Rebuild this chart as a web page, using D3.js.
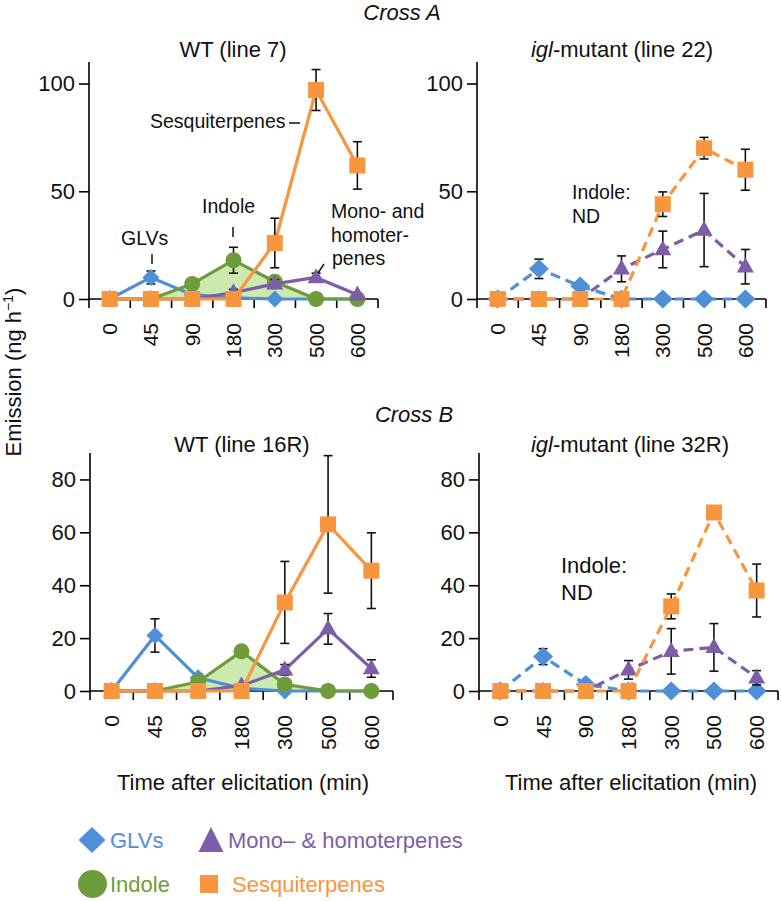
<!DOCTYPE html>
<html>
<head>
<meta charset="utf-8">
<script src="https://cdn.jsdelivr.net/npm/d3@7"></script>
<style>
  html, body { margin: 0; padding: 0; background: #fff; }
  svg { display: block; font-family: 'Liberation Sans', Arial, Helvetica, sans-serif; }
</style>
</head>
<body>
<svg id="chart" width="781" height="901"></svg>
<script>
// ---------------- DATA ----------------
const times = ["0", "45", "90", "180", "300", "500", "600"];
const seriesNames = ["GLVs", "Indole", "Mono– & homoterpenes", "Sesquiterpenes"];
const ticksA = [0, 50, 100];
const ticksB = [0, 20, 40, 60, 80];

// Cross A, WT (line 7)
const aWT_glv      = [0, 10, 2, 0.5, 0, 0, 0];
const aWT_glv_err  = [0, 3, 0, 0, 0, 0, 0];
const aWT_ind      = [0, 0, 7, 18, 8, 0, 0];
const aWT_ind_err  = [0, 0, 0, 6, 1.5, 0, 0];
const aWT_mono     = [0, 0, 0, 3, 7, 10, 2];
const aWT_mono_err = [0, 0, 0, 1.5, 2, 2, 0];
const aWT_ses      = [0, 0, 0, 0, 26, 97, 62];
const aWT_ses_err  = [0, 0, 0, 0, 11.5, 9.5, 11];

// Cross A, igl-mutant (line 22)
const aMut_glv      = [0, 14, 6, 0, 0, 0, 0];
const aMut_glv_err  = [0, 4.5, 0, 0, 0, 0, 0];
const aMut_mono     = [0, 0, 0, 14, 23, 32, 15];
const aMut_mono_err = [0, 0, 0, 6, 8.5, 17, 8];
const aMut_ses      = [0, 0, 0, 0, 44, 70, 60];
const aMut_ses_err  = [0, 0, 0, 0, 5.7, 5, 9.5];

// Cross B, WT (line 16R)
const bWT_glv      = [0, 21, 5, 1, 0, 0, 0];
const bWT_glv_err  = [0, 6.3, 1.5, 0, 0, 0, 0];
const bWT_ind      = [0, 0, 3.5, 15, 2.5, 0, 0];
const bWT_ind_err  = [0, 0, 0, 0, 0, 0, 0];
const bWT_mono     = [0, 0, 0, 2, 8, 23.5, 8.5];
const bWT_mono_err = [0, 0, 0, 0, 2, 5.8, 3.3];
const bWT_ses      = [0, 0, 0, 0, 33.5, 63, 45.5];
const bWT_ses_err  = [0, 0, 0, 0, 15.5, 26, 14.3];

// Cross B, igl-mutant (line 32R)
const bMut_glv      = [0, 13, 2.5, 0, 0, 0, 0];
const bMut_glv_err  = [0, 3, 0, 0, 0, 0, 0];
const bMut_mono     = [0, 0, 0, 8, 15, 16.5, 5];
const bMut_mono_err = [0, 0, 0, 3.5, 8.6, 9, 2.7];
const bMut_ses      = [0, 0, 0, 0, 32, 67.5, 38];
const bMut_ses_err  = [0, 0, 0, 0, 4.7, 0, 10];

// ---------------- STYLE ----------------
const colors = { glv: "#4f8fd8", ind: "#6f9c3a", mono: "#7b5ea7", ses: "#f7963f" };
const fillGreen = "#c7e8a5";
const FONT = 22;

const svg = d3.select("#chart");

function markerPath(shape, cx, cy, big) {
  if (shape === "diamond") {
    const w = big ? 10 : 8.5, h = big ? 9.5 : 8.5;
    return `M${cx},${cy - h}L${cx + w},${cy}L${cx},${cy + h}L${cx - w},${cy}Z`;
  }
  if (shape === "square") {
    const s = 8;
    return `M${cx - s},${cy - s}H${cx + s}V${cy + s}H${cx - s}Z`;
  }
  if (shape === "triangle") {
    const w = 8.5, h = 15;
    return `M${cx},${cy - h * 0.62}L${cx + w},${cy + h * 0.38}L${cx - w},${cy + h * 0.38}Z`;
  }
  return null;
}

function drawPanel(cfg) {
  const g = svg.append("g");
  const x = d3.scaleBand().domain(times).range([cfg.x0, cfg.x1]).paddingInner(0).paddingOuter(0);
  const y = d3.scaleLinear().domain([0, cfg.ymax]).range([cfg.y0, cfg.yTop]);
  const cx = d => x(d) + x.bandwidth() / 2;

  // indole shaded area
  if (cfg.ind) {
    const area = d3.area()
      .x((d, i) => cx(times[i]))
      .y0(y(0))
      .y1(d => y(d));
    g.append("path").datum(cfg.ind.v).attr("d", area).attr("fill", fillGreen).attr("opacity", 0.9);
  }

  // axes
  const yAxis = d3.axisLeft(y).tickValues(cfg.ticks).tickSize(10).tickPadding(4);
  const ya = g.append("g").attr("transform", `translate(${cfg.x0},0)`).call(yAxis);
  ya.select(".domain").remove();
  ya.selectAll("line").attr("stroke", "#000").attr("stroke-width", 1.6);
  ya.selectAll("text").attr("font-size", FONT).attr("font-family", "'Liberation Sans', Arial, sans-serif").attr("fill", "#111");
  g.append("line").attr("x1", cfg.x0).attr("x2", cfg.x0).attr("y1", cfg.yTop).attr("y2", y(0) + 9)
    .attr("stroke", "#000").attr("stroke-width", 1.6);
  g.append("line").attr("x1", cfg.x0).attr("x2", cfg.x1).attr("y1", y(0)).attr("y2", y(0))
    .attr("stroke", "#000").attr("stroke-width", 1.6);
  times.forEach(t => {
    const bx = x(t) + x.bandwidth();
    g.append("line").attr("x1", bx).attr("x2", bx).attr("y1", y(0)).attr("y2", y(0) + 9)
      .attr("stroke", "#000").attr("stroke-width", 1.6);
  });
  times.forEach(t => {
    g.append("text").text(t)
      .attr("transform", `translate(${cx(t)},${y(0) + 24}) rotate(-90)`)
      .attr("text-anchor", "end").attr("dy", "0.36em")
      .attr("font-size", 21).attr("fill", "#111");
  });

  const list = [
    cfg.glv ? { key: "glv", shape: "diamond", ...cfg.glv } : null,
    cfg.ind ? { key: "ind", shape: "circle", ...cfg.ind } : null,
    cfg.mono ? { key: "mono", shape: "triangle", ...cfg.mono } : null,
    cfg.ses ? { key: "ses", shape: "square", ...cfg.ses } : null
  ].filter(Boolean);

  const line = d3.line().x((d, i) => cx(times[i])).y(d => y(d));

  list.forEach(s => {
    const col = colors[s.key];
    g.append("path").datum(s.v).attr("d", line).attr("fill", "none")
      .attr("stroke", col).attr("stroke-width", 3.2)
      .attr("stroke-linejoin", "round")
      .attr("stroke-dasharray", cfg.dashed ? "10,6" : null);
    // error bars
    s.v.forEach((v, i) => {
      const e = s.e[i];
      if (!e) return;
      const px = cx(times[i]);
      const top = y(v + e), bot = y(Math.max(0, v - e));
      g.append("line").attr("x1", px).attr("x2", px).attr("y1", top).attr("y2", bot).attr("stroke", "#111").attr("stroke-width", 1.6);
      g.append("line").attr("x1", px - 4.5).attr("x2", px + 4.5).attr("y1", top).attr("y2", top).attr("stroke", "#111").attr("stroke-width", 1.6);
      g.append("line").attr("x1", px - 4.5).attr("x2", px + 4.5).attr("y1", bot).attr("y2", bot).attr("stroke", "#111").attr("stroke-width", 1.6);
    });
    // markers
    s.v.forEach((v, i) => {
      const px = cx(times[i]), py = y(v);
      if (s.shape === "circle") {
        g.append("circle").attr("cx", px).attr("cy", py).attr("r", 8).attr("fill", col);
      } else {
        g.append("path").attr("d", markerPath(s.shape, px, py, cfg.dashed)).attr("fill", col);
      }
    });
  });
  return { x, y, g };
}

// ---------------- PANELS ----------------
const pA1 = drawPanel({
  x0: 89, x1: 378, y0: 299, yTop: 62, ymax: 110, ticks: ticksA, dashed: false,
  glv: { v: aWT_glv, e: aWT_glv_err }, ind: { v: aWT_ind, e: aWT_ind_err },
  mono: { v: aWT_mono, e: aWT_mono_err }, ses: { v: aWT_ses, e: aWT_ses_err }
});
const pA2 = drawPanel({
  x0: 477, x1: 766, y0: 299, yTop: 62, ymax: 110, ticks: ticksA, dashed: true,
  glv: { v: aMut_glv, e: aMut_glv_err },
  mono: { v: aMut_mono, e: aMut_mono_err }, ses: { v: aMut_ses, e: aMut_ses_err }
});
const pB1 = drawPanel({
  x0: 90, x1: 393, y0: 691, yTop: 453, ymax: 90, ticks: ticksB, dashed: false,
  glv: { v: bWT_glv, e: bWT_glv_err }, ind: { v: bWT_ind, e: bWT_ind_err },
  mono: { v: bWT_mono, e: bWT_mono_err }, ses: { v: bWT_ses, e: bWT_ses_err }
});
const pB2 = drawPanel({
  x0: 479, x1: 778, y0: 691, yTop: 453, ymax: 90, ticks: ticksB, dashed: true,
  glv: { v: bMut_glv, e: bMut_glv_err },
  mono: { v: bMut_mono, e: bMut_mono_err }, ses: { v: bMut_ses, e: bMut_ses_err }
});

// ---------------- TEXT ----------------
function txt(s, x, y, opts = {}) {
  const t = svg.append("text").attr("x", x).attr("y", y)
    .attr("font-size", opts.size || FONT).attr("fill", opts.fill || "#111")
    .attr("text-anchor", opts.anchor || "start");
  if (opts.italic) t.attr("font-style", "italic");
  t.text(s);
  return t;
}
txt("Cross A", 402, 20, { anchor: "middle", italic: true });
txt("Cross B", 414, 422, { anchor: "middle", italic: true });
txt("WT (line 7)", 233, 57, { anchor: "middle" });
txt("WT (line 16R)", 242, 452, { anchor: "middle" });
function iglTitle(rest, x, y) {
  const t = svg.append("text").attr("x", x).attr("y", y).attr("font-size", FONT)
    .attr("fill", "#111").attr("text-anchor", "middle");
  t.append("tspan").attr("font-style", "italic").text("igl");
  t.append("tspan").text(rest);
}
iglTitle("-mutant (line 22)", 622, 57);
iglTitle("-mutant (line 32R)", 630, 452);

txt("Time after elicitation (min)", 243, 790, { anchor: "middle" });
txt("Time after elicitation (min)", 631, 790, { anchor: "middle" });

const yl = svg.append("text").attr("transform", "translate(21,372) rotate(-90)")
  .attr("text-anchor", "middle").attr("font-size", FONT).attr("fill", "#111");
yl.append("tspan").text("Emission (ng h");
yl.append("tspan").attr("font-size", 14).attr("dy", -8).text("−1");
yl.append("tspan").attr("dy", 8).text(")");

// annotations panel A WT
const AN = 19.5;
txt("Sesquiterpenes", 150, 128, { size: AN });
svg.append("line").attr("x1", 289).attr("x2", 300).attr("y1", 123).attr("y2", 123).attr("stroke", "#111").attr("stroke-width", 1.5);
txt("Indole", 202, 213, { size: AN });
svg.append("line").attr("x1", 233).attr("x2", 233).attr("y1", 227).attr("y2", 237).attr("stroke", "#111").attr("stroke-width", 1.5);
txt("GLVs", 121, 245, { size: AN });
svg.append("line").attr("x1", 152).attr("x2", 152).attr("y1", 254).attr("y2", 264).attr("stroke", "#111").attr("stroke-width", 1.5);
txt("Mono- and", 331, 218, { size: AN });
txt("homoter-", 331, 242, { size: AN });
txt("penes", 332, 265, { size: AN });
svg.append("line").attr("x1", 318).attr("x2", 324).attr("y1", 273).attr("y2", 264).attr("stroke", "#111").attr("stroke-width", 1.5);

txt("Indole:", 572, 199, { size: 19.5 });
txt("ND", 572, 223, { size: 19.5 });
txt("Indole:", 561, 573, { size: 22 });
txt("ND", 561, 600, { size: 22 });

// ---------------- LEGEND ----------------
const lg = svg.append("g");
lg.append("path").attr("d", "M92,827L105.5,840L92,853L78.5,840Z").attr("fill", colors.glv);
txt("GLVs", 110, 848, { fill: colors.glv });
lg.append("path").attr("d", "M211,827L223.5,852L198.5,852Z").attr("fill", colors.mono);
txt("Mono– & homoterpenes", 228, 848, { fill: colors.mono });
lg.append("ellipse").attr("cx", 92.5).attr("cy", 884).attr("rx", 14.5).attr("ry", 14).attr("fill", colors.ind);
txt("Indole", 110, 892, { fill: colors.ind });
lg.append("rect").attr("x", 200).attr("y", 875).attr("width", 18).attr("height", 18).attr("fill", colors.ses);
txt("Sesquiterpenes", 232, 892, { fill: colors.ses });
</script>
</body>
</html>
